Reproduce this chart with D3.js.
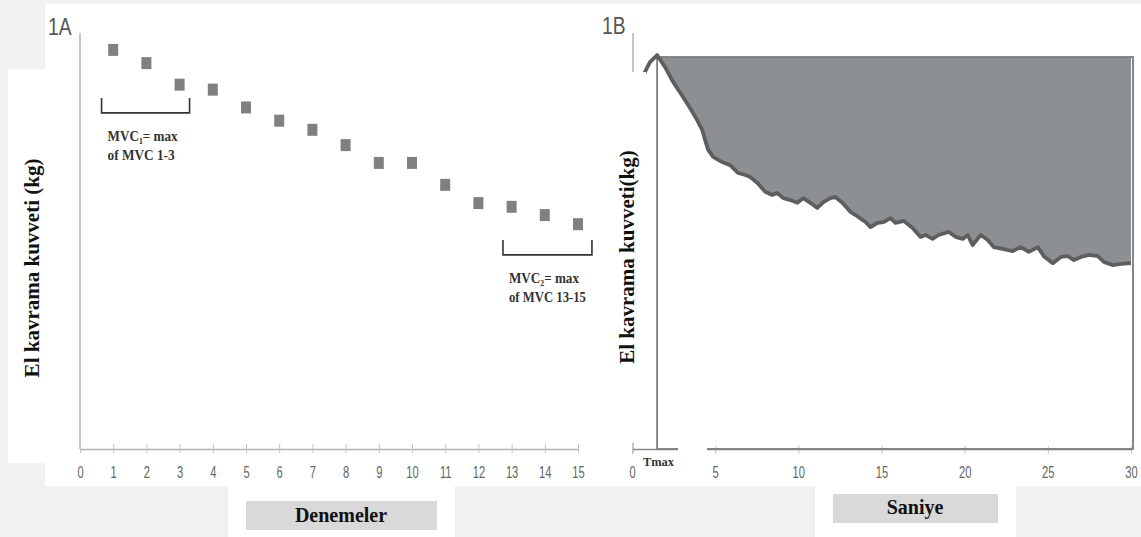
<!DOCTYPE html>
<html>
<head>
<meta charset="utf-8">
<script src="https://cdn.jsdelivr.net/npm/d3@7"></script>
<style>
  body { margin: 0; background: #f1f1f1; }
  svg { display: block; }
</style>
</head>
<body>
<svg></svg>
<script>
const width = 1141;
const height = 537;

// 1A — grip force per trial (relative units)
const trials = [1, 2, 3, 4, 5, 6, 7, 8, 9, 10, 11, 12, 13, 14, 15];
const gripA = [96.4, 93.2, 88.0, 86.8, 82.5, 79.3, 77.1, 73.4, 69.1, 69.1, 63.8, 59.4, 58.5, 56.5, 54.3];
const ticksA = [0, 1, 2, 3, 4, 5, 6, 7, 8, 9, 10, 11, 12, 13, 14, 15];

// 1B — grip force over 30 s
const secs = [0.12, 0.78, 1.08, 1.51, 1.99, 2.41, 2.71, 3.07, 3.49, 3.92, 4.22, 4.40, 4.58, 4.88,
  5.42, 5.90, 6.39, 6.81, 7.11, 7.53, 8.01, 8.43, 8.73, 9.10, 9.52, 9.94, 10.30, 10.72, 11.14,
  11.51, 11.93, 12.23, 12.65, 13.13, 13.61, 14.04, 14.34, 14.76, 15.12, 15.54, 15.84, 16.33,
  16.87, 17.35, 17.65, 18.07, 18.43, 19.04, 19.46, 19.88, 20.18, 20.48, 20.96, 21.39, 21.75,
  22.35, 22.89, 23.37, 23.86, 24.40, 24.76, 25.30, 25.78, 26.20, 26.57, 26.99, 27.47, 28.01,
  28.37, 28.92, 29.40, 30.0];
const gripB = [89.5, 96.2, 98.7, 100.5, 97.4, 94.1, 92.1, 89.8, 87.0, 83.9, 81.4, 78.8, 76.3, 74.5,
  73.2, 72.4, 70.4, 69.9, 69.4, 67.9, 65.6, 64.8, 65.3, 64.0, 63.5, 62.8, 64.0, 62.8, 61.5,
  63.0, 64.0, 64.3, 62.8, 60.5, 59.2, 57.9, 56.6, 57.7, 57.9, 58.9, 57.7, 58.2,
  56.4, 54.1, 54.6, 53.6, 54.6, 55.4, 54.1, 53.6, 54.6, 52.0, 54.6, 53.3, 51.5,
  51.0, 50.5, 51.5, 50.3, 51.5, 49.2, 47.4, 49.0, 49.2, 48.2, 49.0, 49.5, 49.2,
  47.7, 46.9, 47.2, 47.4];
const ticksB = [0, 5, 10, 15, 20, 25, 30];
const tStart = 1.51; // Tmax

const yLabelA = "El kavrama kuvveti (kg)";
const yLabelB = "El kavrama kuvveti(kg)";

const svg = d3.select("svg")
  .attr("width", width)
  .attr("height", height);

// background panels
svg.append("rect").attr("width", width).attr("height", height).attr("fill", "#f1f1f1");
svg.append("rect").attr("x", 45).attr("y", 4).attr("width", width - 45).attr("height", 482).attr("fill", "#fff");
svg.append("rect").attr("x", 8).attr("y", 69).attr("width", 40).attr("height", 394).attr("fill", "#fff");
svg.append("rect").attr("x", 228).attr("y", 480).attr("width", 227).attr("height", 57).attr("fill", "#fff");
svg.append("rect").attr("x", 815).attr("y", 480).attr("width", 201).attr("height", 57).attr("fill", "#fff");

const sans = "'Liberation Sans', Arial, sans-serif";
const serif = "'Liberation Serif', 'Times New Roman', serif";

// ---------- 1A ----------
const xA = d3.scaleLinear().domain([0, 15]).range([80, 578]);
const yA = d3.scaleLinear().domain([0, 100]).range([449, 35]);

svg.append("line")
  .attr("x1", xA(0)).attr("x2", xA(0))
  .attr("y1", 33).attr("y2", yA(0))
  .attr("stroke", "#b3b3b3").attr("stroke-width", 1.5);

const axA = svg.append("g")
  .attr("transform", `translate(0,${yA(0)})`)
  .call(d3.axisBottom(xA).tickValues(ticksA).tickSizeOuter(0).tickFormat(d3.format("d")));
axA.select(".domain").attr("stroke", "#b3b3b3").attr("stroke-width", 1.5);
axA.selectAll(".tick line").attr("y1", -5).attr("y2", 4).attr("stroke", "#c4c4c4");
axA.selectAll(".tick text")
  .attr("y", 29).attr("dy", null)
  .attr("transform", "scale(0.7,1)")
  .attr("font-family", sans).attr("font-size", 16).attr("fill", "#666");

svg.append("g")
  .attr("fill", "#808080")
  .selectAll("rect")
  .data(trials)
  .join("rect")
  .attr("x", (d) => xA(d) - 5)
  .attr("y", (d, i) => yA(gripA[i]) - 6)
  .attr("width", 10)
  .attr("height", 12);

// brackets for MVC1 / MVC2
const brackets = [
  { from: 0.65, to: 3.3, top: 84.8, bottom: 81.2, line1: "MVC\u2081= max", line2: "of MVC 1-3", w1: 70, w2: 67 },
  { from: 12.74, to: 15.42, top: 50.5, bottom: 46.9, line1: "MVC\u2082= max", line2: "of MVC 13-15", w1: 70, w2: 77 }
];
brackets.forEach((b) => {
  const x0 = xA(b.from), x1 = xA(b.to), yt = yA(b.top), yb = yA(b.bottom);
  svg.append("path")
    .attr("d", `M${x0},${yt}V${yb}H${x1}V${yt}`)
    .attr("fill", "none").attr("stroke", "#333").attr("stroke-width", 1.6);
  [b.line1, b.line2].forEach((s, k) => {
    svg.append("text")
      .attr("x", x0 + 6).attr("y", yb + 28 + k * 19)
      .attr("font-family", serif).attr("font-weight", "bold").attr("font-size", 14).attr("fill", "#333")
      .attr("textLength", k ? b.w2 : b.w1).attr("lengthAdjust", "spacingAndGlyphs")
      .text(s);
  });
});

svg.append("text")
  .attr("transform", "translate(48,35) scale(0.8,1)")
  .attr("font-family", sans).attr("font-size", 24).attr("fill", "#555")
  .text("1A");

// ---------- 1B ----------
const xB = d3.scaleLinear().domain([0, 30]).range([632, 1131]);
const yB = d3.scaleLinear().domain([0, 100]).range([449, 57]);

svg.append("line")
  .attr("x1", xB(0) + 1).attr("x2", xB(0) + 1)
  .attr("y1", 33).attr("y2", 453)
  .attr("stroke", "#b3b3b3").attr("stroke-width", 1.5);

const axB = svg.append("g")
  .attr("transform", `translate(0,${yB(0)})`)
  .call(d3.axisBottom(xB).tickValues(ticksB).tickSizeOuter(0));
axB.select(".domain").attr("stroke", "#8a8a8a").attr("stroke-width", 1.5);
axB.selectAll(".tick line").attr("y1", -3).attr("y2", 5).attr("stroke", "#c4c4c4");
axB.selectAll(".tick text")
  .attr("y", 29).attr("dy", null)
  .attr("transform", "scale(0.7,1)")
  .attr("font-family", sans).attr("font-size", 16).attr("fill", "#666");

const series = secs.map((t, i) => ({ t, v: gripB[i] }));
const after = series.filter((d) => d.t >= tStart);

svg.append("path")
  .datum(after)
  .attr("fill", "#8d9093")
  .attr("d", d3.area().x((d) => xB(d.t)).y0(yB(100)).y1((d) => yB(d.v)));

svg.append("rect")
  .attr("x", xB(tStart)).attr("y", yB(100))
  .attr("width", xB(30) - xB(tStart) + 2).attr("height", yB(0) - yB(100))
  .attr("fill", "none").attr("stroke", "#7d7d7d").attr("stroke-width", 1.8);

svg.append("path")
  .datum(series)
  .attr("fill", "none")
  .attr("stroke", "#5e5e5e")
  .attr("stroke-width", 3.8)
  .attr("stroke-linejoin", "round")
  .attr("d", d3.line().x((d) => xB(d.t)).y((d) => yB(d.v)));

// white patches over the axis
svg.append("rect").attr("x", 598).attr("y", 72).attr("width", 48).attr("height", 371).attr("fill", "#fff");
svg.append("rect").attr("x", 678).attr("y", 443).attr("width", 29).attr("height", 14).attr("fill", "#fff");

svg.append("text")
  .attr("x", 643).attr("y", 466)
  .attr("font-family", serif).attr("font-weight", "bold").attr("font-size", 13).attr("fill", "#333")
  .attr("textLength", 31).attr("lengthAdjust", "spacingAndGlyphs")
  .text("Tmax");

svg.append("text")
  .attr("transform", "translate(602,34) scale(0.8,1)")
  .attr("font-family", sans).attr("font-size", 24).attr("fill", "#555")
  .text("1B");

// axis titles
svg.append("text")
  .attr("transform", `translate(32,268) rotate(-90)`)
  .attr("text-anchor", "middle").attr("dominant-baseline", "central")
  .attr("font-family", serif).attr("font-weight", "bold").attr("font-size", 21).attr("fill", "#111")
  .text(yLabelA);

svg.append("text")
  .attr("transform", `translate(627,257) rotate(-90)`)
  .attr("text-anchor", "middle").attr("dominant-baseline", "central")
  .attr("font-family", serif).attr("font-weight", "bold").attr("font-size", 21).attr("fill", "#111")
  .text(yLabelB);

svg.append("rect").attr("x", 246).attr("y", 501).attr("width", 191).attr("height", 29).attr("fill", "#d9d9d9");
svg.append("text")
  .attr("x", 341).attr("y", 522)
  .attr("text-anchor", "middle")
  .attr("font-family", serif).attr("font-weight", "bold").attr("font-size", 20).attr("fill", "#111")
  .text("Denemeler");

svg.append("rect").attr("x", 833).attr("y", 494).attr("width", 165).attr("height", 29).attr("fill", "#d9d9d9");
svg.append("text")
  .attr("x", 915).attr("y", 514)
  .attr("text-anchor", "middle")
  .attr("font-family", serif).attr("font-weight", "bold").attr("font-size", 20).attr("fill", "#111")
  .text("Saniye");
</script>
</body>
</html>
